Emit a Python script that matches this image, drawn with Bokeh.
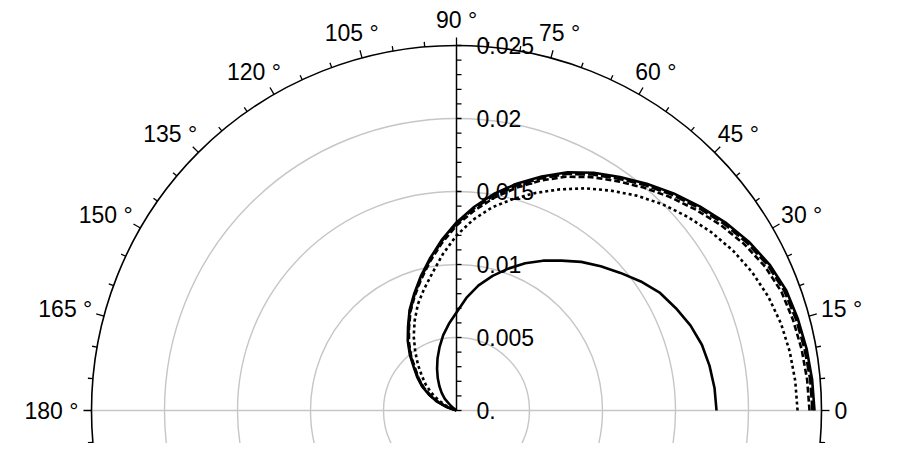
import numpy as np
from bokeh.plotting import figure
from bokeh.models import Range1d
from bokeh.core.properties import value
from bokeh.embed import file_html
from bokeh.resources import INLINE

# ---- data (polar: angle in degrees, radius in data units) ----
theta_a = [0, 5, 10, 15, 20, 25, 30, 35, 40, 45, 50, 55, 60, 65, 70, 75, 80, 85, 90,
           95, 100, 105, 110, 115, 120, 125, 130, 135, 140, 142.5, 145]
r_a = [0.01781, 0.01774, 0.01760, 0.01740, 0.01705, 0.01658, 0.01610, 0.01541,
       0.01466, 0.01397, 0.01329, 0.01253, 0.01185, 0.01113, 0.01034, 0.00955,
       0.00870, 0.00774, 0.00671, 0.00596, 0.00524, 0.00449, 0.00380, 0.00315,
       0.00257, 0.00205, 0.00158, 0.00113, 0.00053, 0.00024, 0.0]

theta_b = [0, 5, 10, 15, 20, 25, 30, 35, 40, 45, 50, 55, 60, 65, 70, 75, 80, 85, 90,
           95, 100, 105, 110, 115, 120, 125, 130, 135, 140, 145, 150, 155, 160, 165]
r_b = [0.02452, 0.02445, 0.02435, 0.02421, 0.02404, 0.02366, 0.02312, 0.02247,
       0.02175, 0.02103, 0.02027, 0.01952, 0.01880, 0.01801, 0.01705, 0.01610,
       0.01510, 0.01401, 0.01288, 0.01171, 0.01055, 0.00949, 0.00849, 0.00760,
       0.00664, 0.00582, 0.00497, 0.00411, 0.00349, 0.00288, 0.00219, 0.00153,
       0.00075, 0.0]

theta_c = [0, 5, 10, 15, 20, 25, 30, 35, 40, 45, 50, 55, 60, 65, 70, 75, 80, 85, 90,
           95, 100, 105, 110, 115, 120, 125, 130, 135, 140, 145, 150, 155, 160, 164]
r_c = [0.02438, 0.02432, 0.02421, 0.02408, 0.02390, 0.02353, 0.02298, 0.02233,
       0.02161, 0.02089, 0.02014, 0.01938, 0.01866, 0.01788, 0.01692, 0.01596,
       0.01497, 0.01390, 0.01281, 0.01164, 0.01048, 0.00942, 0.00842, 0.00753,
       0.00658, 0.00575, 0.00490, 0.00404, 0.00342, 0.00281, 0.00212, 0.00147,
       0.00072, 0.0]

theta_d = [0, 5, 10, 15, 20, 25, 30, 35, 40, 45, 50, 55, 60, 65, 70, 75, 80, 85, 90,
           95, 100, 105, 110, 115, 120, 125, 130, 135, 140, 145, 150, 155, 160, 164]
r_d = [0.02418, 0.02411, 0.02401, 0.02387, 0.02370, 0.02332, 0.02277, 0.02212,
       0.02140, 0.02068, 0.01993, 0.01918, 0.01846, 0.01767, 0.01675, 0.01579,
       0.01479, 0.01373, 0.01267, 0.01151, 0.01038, 0.00932, 0.00836, 0.00747,
       0.00651, 0.00568, 0.00483, 0.00397, 0.00336, 0.00274, 0.00205, 0.00140,
       0.00068, 0.0]

theta_e = [0, 5, 10, 15, 20, 25, 30, 35, 40, 45, 50, 55, 60, 65, 70, 75, 80, 85, 90,
           95, 100, 105, 110, 115, 120, 125, 130, 135, 140, 145, 150, 155, 160]
r_e = [0.02336, 0.02329, 0.02318, 0.02301, 0.02274, 0.02236, 0.02188, 0.02130,
       0.02065, 0.01997, 0.01921, 0.01839, 0.01757, 0.01671, 0.01586, 0.01500,
       0.01414, 0.01312, 0.01199, 0.01075, 0.00955, 0.00860, 0.00774, 0.00678,
       0.00586, 0.00493, 0.00411, 0.00336, 0.00274, 0.00209, 0.00144, 0.00079, 0.0]

radial_ticks = [0.0, 0.005, 0.01, 0.015, 0.02, 0.025]
radial_labels = ["0.", "0.005", "0.01", "0.015", "0.02", "0.025"]
grid_radii = [0.005, 0.01, 0.015, 0.02]
r_max = 0.025
angle_ticks = [0, 15, 30, 45, 60, 75, 90, 105, 120, 135, 150, 165, 180]
angle_labels = ["0", "15 °", "30 °", "45 °", "60 °", "75 °", "90 °", "105 °",
                "120 °", "135 °", "150 °", "165 °", "180 °"]

# ---- layout ----
W, H = 897, 443
cx, cy = 456, 410          # centre in canvas pixels
K = 365 / r_max            # pixels per data unit
px = 1.0 / K

p = figure(width=W, height=H, output_backend="svg", toolbar_location=None,
           x_range=Range1d(-cx * px, (W - cx) * px),
           y_range=Range1d(-(H - cy) * px, cy * px),
           x_axis_location=None, y_axis_location=None, min_border=0)
p.grid.visible = False
p.outline_line_color = None
p.background_fill_color = "white"
p.border_fill_color = "white"

FONT = value("Liberation Sans")
GRAY = "#c6c6c6"

# grid circles
p.circle(x=[0] * len(grid_radii), y=[0] * len(grid_radii), radius=grid_radii,
         fill_color=None, line_color=GRAY, line_width=1.4)
# horizontal gray line
p.line([-r_max, r_max], [0, 0], line_color=GRAY, line_width=1.4)

# outer circle
p.circle(x=[0], y=[0], radius=[r_max], fill_color=None, line_color="black", line_width=1.6)

# angular ticks every 5 degrees, outward
tick_deg = np.arange(-10, 195, 5)
x0, y0, x1, y1 = [], [], [], []
for d in tick_deg:
    L = 8 if d % 15 == 0 else 5
    t = np.deg2rad(d)
    x0.append(r_max * np.cos(t)); y0.append(r_max * np.sin(t))
    x1.append((r_max + L * px) * np.cos(t)); y1.append((r_max + L * px) * np.sin(t))
p.segment(x0, y0, x1, y1, line_color="black", line_width=1.3)

# angular labels
lx, ly = [], []
for d, lab in zip(angle_ticks, angle_labels):
    t = np.deg2rad(d)
    ndig = sum(ch.isdigit() for ch in lab)
    w = 12.8 * ndig + (15.6 if "°" in lab else 0)
    rr = 391 + (w / 2 - 13)
    lx.append(rr * np.cos(t) * px); ly.append(391 * np.sin(t) * px)
p.text(x=lx, y=ly, text=angle_labels, text_align="center", text_baseline="middle",
       text_font=FONT, text_font_size="23px", text_color="black")

# radial axis
p.line([0, 0], [0, r_max], line_color="black", line_width=1.5)
rt = np.arange(0, 26) * 0.001
p.segment([0] * len(rt), list(rt), [5 * px] * len(rt), list(rt), line_color="black", line_width=1.3)
p.text(x=[20 * px] * len(radial_ticks), y=radial_ticks, text=radial_labels,
       text_align="left", text_baseline="middle", text_font=FONT,
       text_font_size="23px", text_color="black")

# curves
def xy(th, r):
    t = np.deg2rad(np.array(th, dtype=float))
    r = np.array(r, dtype=float)
    return r * np.cos(t), r * np.sin(t)

series = [
    (theta_a, r_a, "solid"),
    (theta_e, r_e, "3 3"),
    (theta_d, r_d, "6 3"),
    (theta_c, r_c, "10 3"),
    (theta_b, r_b, "solid"),
]
for th, r, dash in series:
    X, Y = xy(th, r)
    p.line(X, Y, line_color="black", line_width=2.6, line_dash=dash, line_join="round")

open("out.html", "w").write(file_html(p, INLINE))
